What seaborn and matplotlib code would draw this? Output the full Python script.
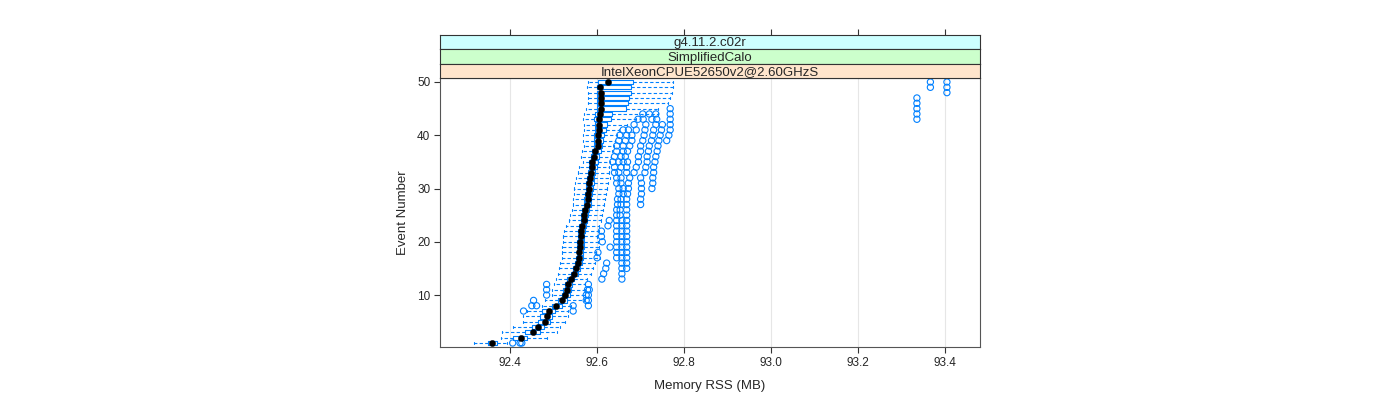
import numpy as np
import pandas as pd
import matplotlib
matplotlib.use("Agg")
import matplotlib.pyplot as plt
import seaborn as sns

# per-event box summaries (Memory RSS, MB)
events = list(range(1, 51))
medians = [92.358, 92.425, 92.452, 92.465, 92.480, 92.484, 92.490, 92.506, 92.519, 92.526,
           92.530, 92.534, 92.540, 92.547, 92.552, 92.557, 92.559, 92.559, 92.560, 92.561,
           92.562, 92.563, 92.565, 92.569, 92.569, 92.573, 92.576, 92.578, 92.580, 92.581,
           92.582, 92.584, 92.585, 92.589, 92.589, 92.592, 92.596, 92.601, 92.601, 92.601,
           92.605, 92.605, 92.605, 92.607, 92.608, 92.608, 92.608, 92.608, 92.606, 92.625]
q1 = [92.350, 92.407, 92.434, 92.450, 92.465, 92.469, 92.473, 92.496, 92.511, 92.519,
      92.522, 92.526, 92.532, 92.540, 92.545, 92.550, 92.552, 92.553, 92.553, 92.554,
      92.555, 92.556, 92.558, 92.562, 92.563, 92.566, 92.569, 92.571, 92.573, 92.574,
      92.575, 92.577, 92.578, 92.582, 92.582, 92.585, 92.588, 92.592, 92.593, 92.593,
      92.596, 92.596, 92.594, 92.595, 92.599, 92.599, 92.599, 92.599, 92.599, 92.602]
q3 = [92.370, 92.439, 92.469, 92.477, 92.492, 92.496, 92.503, 92.519, 92.530, 92.538,
      92.540, 92.542, 92.548, 92.555, 92.560, 92.565, 92.568, 92.567, 92.569, 92.570,
      92.571, 92.572, 92.574, 92.577, 92.578, 92.582, 92.585, 92.587, 92.589, 92.590,
      92.592, 92.594, 92.596, 92.600, 92.601, 92.605, 92.608, 92.612, 92.613, 92.615,
      92.620, 92.622, 92.632, 92.634, 92.667, 92.670, 92.673, 92.677, 92.678, 92.683]
whisker_lo = [92.316, 92.379, 92.381, 92.406, 92.429, 92.429, 92.440, 92.473, 92.480, 92.496,
              92.496, 92.500, 92.506, 92.510, 92.512, 92.515, 92.519, 92.519, 92.520, 92.522,
              92.522, 92.525, 92.528, 92.535, 92.538, 92.542, 92.545, 92.545, 92.546, 92.546,
              92.550, 92.552, 92.555, 92.558, 92.567, 92.562, 92.565, 92.569, 92.568, 92.568,
              92.570, 92.570, 92.568, 92.570, 92.574, 92.578, 92.578, 92.578, 92.577, 92.578]
whisker_hi = [92.392, 92.484, 92.509, 92.515, 92.526, 92.534, 92.534, 92.540, 92.569, 92.572,
              92.572, 92.572, 92.576, 92.585, 92.590, 92.595, 92.607, 92.598, 92.605, 92.603,
              92.600, 92.605, 92.605, 92.610, 92.612, 92.614, 92.615, 92.618, 92.620, 92.622,
              92.625, 92.630, 92.628, 92.628, 92.630, 92.632, 92.635, 92.638, 92.642, 92.645,
              92.650, 92.668, 92.690, 92.740, 92.741, 92.764, 92.768, 92.772, 92.775, 92.775]
outliers = [
    [92.406, 92.423, 92.427], [], [], [], [], [],
    [92.431, 92.545],
    [92.450, 92.461, 92.545, 92.580],
    [92.454, 92.575, 92.580],
    [92.484, 92.575, 92.580],
    [92.484, 92.578, 92.582],
    [92.484, 92.580],
    [92.611, 92.657],
    [92.615, 92.657],
    [92.620, 92.657, 92.668],
    [92.622, 92.657, 92.668],
    [92.600, 92.645, 92.657, 92.668],
    [92.602, 92.645, 92.657, 92.668],
    [92.630, 92.645, 92.657, 92.668],
    [92.612, 92.645, 92.657, 92.668],
    [92.610, 92.645, 92.657, 92.668],
    [92.610, 92.645, 92.657, 92.668],
    [92.625, 92.645, 92.657, 92.668],
    [92.628, 92.645, 92.657, 92.668],
    [92.645, 92.653, 92.668],
    [92.645, 92.653, 92.668],
    [92.647, 92.655, 92.668, 92.700],
    [92.647, 92.655, 92.668, 92.700],
    [92.650, 92.660, 92.670, 92.702],
    [92.650, 92.660, 92.672, 92.702, 92.726],
    [92.645, 92.655, 92.672, 92.702, 92.728],
    [92.645, 92.655, 92.675, 92.700, 92.728],
    [92.640, 92.650, 92.668, 92.685, 92.710, 92.730],
    [92.640, 92.655, 92.668, 92.690, 92.712, 92.730],
    [92.636, 92.650, 92.660, 92.670, 92.695, 92.715, 92.733],
    [92.640, 92.655, 92.665, 92.695, 92.715, 92.735],
    [92.645, 92.660, 92.670, 92.700, 92.718, 92.738],
    [92.645, 92.660, 92.675, 92.700, 92.720, 92.740],
    [92.650, 92.665, 92.680, 92.705, 92.725, 92.742, 92.760],
    [92.652, 92.668, 92.680, 92.708, 92.728, 92.745, 92.765],
    [92.660, 92.672, 92.690, 92.710, 92.730, 92.748, 92.768],
    [92.685, 92.712, 92.735, 92.750, 92.768],
    [92.694, 92.706, 92.726, 92.737, 92.768, 93.335],
    [92.705, 92.720, 92.735, 92.768, 93.335],
    [92.768, 93.335],
    [93.335],
    [93.335],
    [93.404],
    [93.366, 93.404],
    [93.366, 93.404],
]
strip_labels = ["g4.11.2.c02r", "SimplifiedCalo", "IntelXeonCPUE52650v2@2.60GHzS"]
strip_colors = ["#ccffff", "#ccffcc", "#ffe5cc"]
x_ticks = [92.4, 92.6, 92.8, 93.0, 93.2, 93.4]
y_ticks = [10, 20, 30, 40, 50]

box_rows = []
for i, ev in enumerate(events):
    for v in (whisker_lo[i], q1[i], medians[i], q3[i], whisker_hi[i]):
        box_rows.append({"event": ev, "rss": v})
box_df = pd.DataFrame(box_rows)
out_df = pd.DataFrame([{"event": ev, "rss": v} for ev, vals in zip(events, outliers) for v in vals])
med_df = pd.DataFrame({"event": events, "rss": medians})

sns.set_style("white")
plt.rcParams["font.family"] = ["Liberation Sans", "DejaVu Sans"]
blue = "#0080ff"

fig = plt.figure(figsize=(14, 4), dpi=100)
ax = fig.add_axes([440 / 1400, 1 - 347 / 400, 540 / 1400, 269 / 400])

for xt in x_ticks:
    ax.axvline(xt, color="#e6e6e6", lw=0.8, zorder=0)

sns.boxplot(data=box_df, x="rss", y="event", orient="h", native_scale=True,
            whis=(0, 100), showfliers=False, fill=False, color=blue, width=0.8,
            linewidth=0.8, whiskerprops={"linestyle": (0, (3, 2))},
            medianprops={"linewidth": 0}, ax=ax)
sns.scatterplot(data=out_df, x="rss", y="event", marker="o", s=20,
                facecolors="none", edgecolor=blue, linewidth=0.8, ax=ax, zorder=3)
sns.scatterplot(data=med_df, x="rss", y="event", marker="o", s=20,
                color="black", edgecolor="black", linewidth=0.3, ax=ax, zorder=4)

ax.set_xlim(92.239, 93.48)
ax.set_ylim(0.25, 50.75)
ax.set_xticks(x_ticks)
ax.set_xticklabels([f"{t:.1f}" for t in x_ticks])
ax.set_yticks(y_ticks)
ax.set_yticklabels([str(t) for t in y_ticks])
ax.tick_params(axis="both", direction="out", length=4, width=0.8, color="#333333",
               labelsize=8.5, pad=3, left=True, bottom=True)
ax.set_xlabel("Memory RSS (MB)", fontsize=9.5, labelpad=8)
ax.set_ylabel("Event Number", fontsize=9.5, labelpad=6)
for sp in ax.spines.values():
    sp.set_color("#555555")
    sp.set_linewidth(0.8)

# strips stacked above the panel
strip_h = 14.3 / 400
for k, (lab, col) in enumerate(zip(strip_labels, strip_colors)):
    top_px = 35 + k * strip_h * 400
    sax = fig.add_axes([440 / 1400, 1 - (top_px / 400) - strip_h, 540 / 1400, strip_h])
    sax.set_facecolor(col)
    sax.set_xlim(ax.get_xlim())
    sax.set_yticks([])
    sax.text(0.5, 0.42, lab, transform=sax.transAxes, ha="center", va="center", fontsize=9.5)
    if k == 0:
        sax.set_xticks(x_ticks)
        sax.tick_params(axis="x", top=True, bottom=False, labeltop=False,
                        labelbottom=False, direction="out", length=4, width=0.8, color="#333333")
    else:
        sax.set_xticks([])
    for sp in sax.spines.values():
        sp.set_color("#333333")
        sp.set_linewidth(0.8)

fig.savefig("out.png", dpi=100)
